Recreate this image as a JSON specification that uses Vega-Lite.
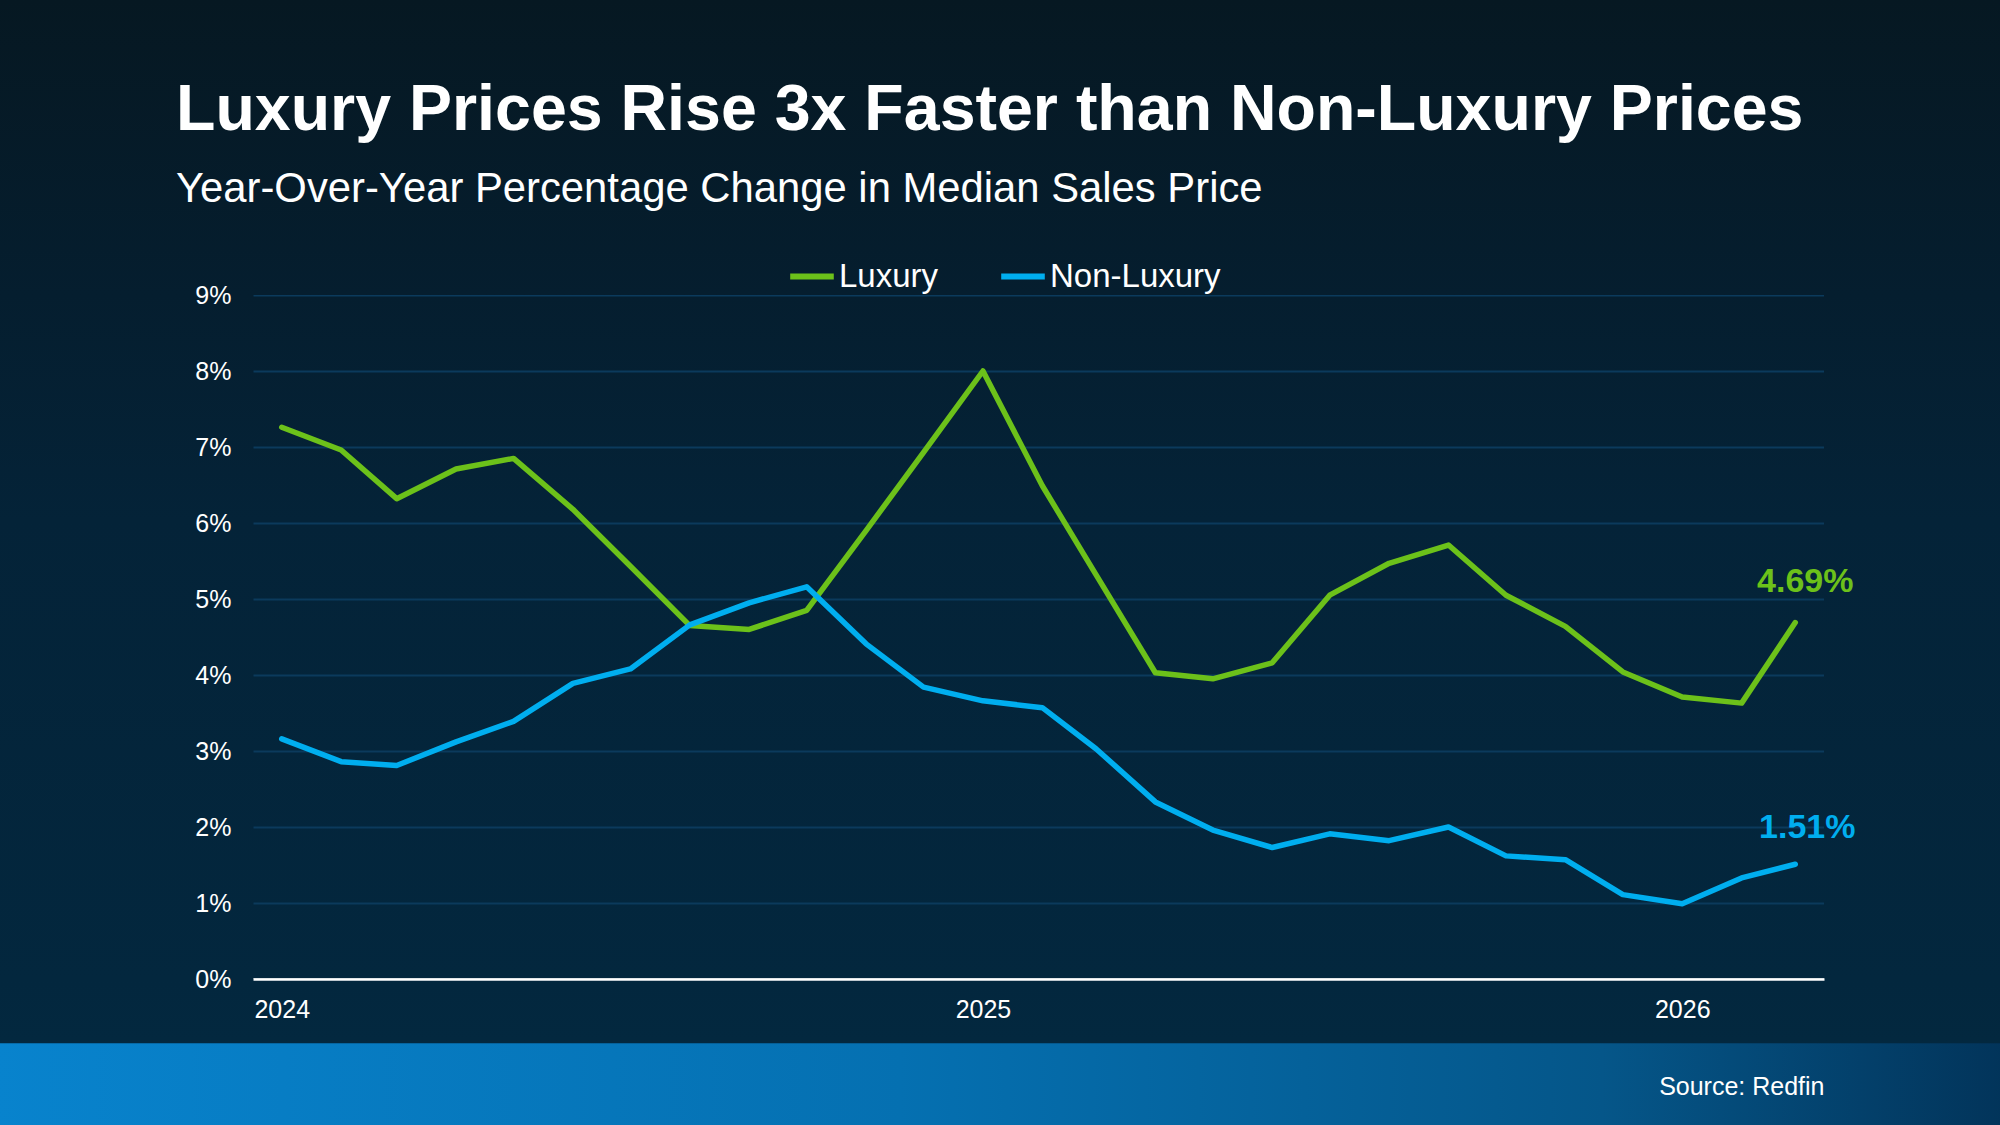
{
  "$schema": "https://vega.github.io/schema/vega-lite/v6.json",
  "width": 1571,
  "height": 684,
  "autosize": {"type": "none"},
  "padding": {"left": 253, "top": 295, "right": 176, "bottom": 146},
  "background": "#04223a",
  "config": {
    "font": "Liberation Sans"
  },
  "view": {
    "stroke": null,
    "fill": {"expr": "{gradient: 'linear', x1: 0, y1: 0, x2: 0, y2: 1, stops: [{offset: 0, color: '#051e2f'}, {offset: 0.33, color: '#042338'}, {offset: 1, color: '#03273e'}]}"}
  },
  "title": {
    "text": "Luxury Prices Rise 3x Faster than Non-Luxury Prices",
    "subtitle": "Year-Over-Year Percentage Change in Median Sales Price",
    "anchor": "start",
    "frame": "group",
    "dx": -77,
    "offset": -212,
    "baseline": "top",
    "font": "Liberation Sans",
    "fontSize": 64.5,
    "fontWeight": "bold",
    "color": "#ffffff",
    "subtitleFont": "Liberation Sans",
    "subtitleFontSize": 41.8,
    "subtitleColor": "#ffffff",
    "subtitlePadding": 26
  },
  "resolve": {"axis": {"y": "independent"}},
  "layer": [
    {
      "data": {"values": [{}]},
      "mark": {
        "type": "rect",
        "fill": {
          "gradient": "linear", "x1": 0, "y1": 0, "x2": 0, "y2": 1,
          "stops": [
            {"offset": 0, "color": "#061822"},
            {"offset": 1, "color": "#051e2f"}
          ]
        }
      },
      "encoding": {
        "x": {"datum": {"year": 2023, "month": 8, "date": 5}, "type": "temporal"},
        "x2": {"datum": {"year": 2026, "month": 6, "date": 18}},
        "y": {"datum": 12.882, "type": "quantitative", "axis": null},
        "y2": {"datum": 9}
      }
    },
    {
      "data": {"values": [{}]},
      "mark": {
        "type": "rect",
        "fill": {
          "gradient": "linear", "x1": 0, "y1": 0, "x2": 0, "y2": 1,
          "stops": [
            {"offset": 0, "color": "#051e2f"},
            {"offset": 0.33, "color": "#042338"},
            {"offset": 1, "color": "#03273e"}
          ]
        }
      },
      "encoding": {
        "x": {"datum": {"year": 2023, "month": 8, "date": 5}, "type": "temporal"},
        "x2": {"datum": {"year": 2023, "month": 12, "date": 17}},
        "y": {"datum": 9, "type": "quantitative", "axis": null},
        "y2": {"datum": 0}
      }
    },
    {
      "data": {"values": [{}]},
      "mark": {
        "type": "rect",
        "fill": {
          "gradient": "linear", "x1": 0, "y1": 0, "x2": 0, "y2": 1,
          "stops": [
            {"offset": 0, "color": "#051e2f"},
            {"offset": 0.33, "color": "#042338"},
            {"offset": 1, "color": "#03273e"}
          ]
        }
      },
      "encoding": {
        "x": {"datum": {"year": 2026, "month": 3, "date": 16}, "type": "temporal"},
        "x2": {"datum": {"year": 2026, "month": 6, "date": 18}},
        "y": {"datum": 9, "type": "quantitative", "axis": null},
        "y2": {"datum": 0}
      }
    },
    {
      "data": {"values": [{}]},
      "mark": {
        "type": "rect",
        "fill": {
          "gradient": "linear", "x1": 0, "y1": 0, "x2": 0, "y2": 1,
          "stops": [
            {"offset": 0, "color": "#03273e"},
            {"offset": 1, "color": "#03283f"}
          ]
        }
      },
      "encoding": {
        "x": {"datum": {"year": 2023, "month": 8, "date": 5}, "type": "temporal"},
        "x2": {"datum": {"year": 2026, "month": 6, "date": 18}},
        "y": {"datum": 0, "type": "quantitative", "axis": null},
        "y2": {"datum": -0.846}
      }
    },
    {
      "data": {"values": [{}]},
      "mark": {
        "type": "rect",
        "fill": {
          "gradient": "linear", "x1": 0, "y1": 0, "x2": 1, "y2": 0,
          "stops": [
            {"offset": 0, "color": "#0883cd"},
            {"offset": 0.45, "color": "#0570b1"},
            {"offset": 0.8, "color": "#055689"},
            {"offset": 1, "color": "#02345a"}
          ]
        }
      },
      "encoding": {
        "x": {"datum": {"year": 2023, "month": 8, "date": 5}, "type": "temporal"},
        "x2": {"datum": {"year": 2026, "month": 6, "date": 18}},
        "y": {"datum": -0.846, "type": "quantitative", "axis": null},
        "y2": {"datum": -2.5}
      }
    },
    {
      "data": {
        "values": [
          {"month": "2024-01-01T00:00:00", "Luxury": 7.26, "Non-Luxury": 3.16},
          {"month": "2024-02-01T00:00:00", "Luxury": 6.96, "Non-Luxury": 2.86},
          {"month": "2024-03-01T00:00:00", "Luxury": 6.32, "Non-Luxury": 2.81},
          {"month": "2024-04-01T00:00:00", "Luxury": 6.71, "Non-Luxury": 3.12},
          {"month": "2024-05-01T00:00:00", "Luxury": 6.85, "Non-Luxury": 3.39},
          {"month": "2024-06-01T00:00:00", "Luxury": 6.18, "Non-Luxury": 3.89},
          {"month": "2024-07-01T00:00:00", "Luxury": 5.43, "Non-Luxury": 4.08},
          {"month": "2024-08-01T00:00:00", "Luxury": 4.65, "Non-Luxury": 4.66},
          {"month": "2024-09-01T00:00:00", "Luxury": 4.60, "Non-Luxury": 4.95},
          {"month": "2024-10-01T00:00:00", "Luxury": 4.85, "Non-Luxury": 5.16},
          {"month": "2024-11-01T00:00:00", "Luxury": 5.90, "Non-Luxury": 4.41},
          {"month": "2024-12-01T00:00:00", "Luxury": 6.93, "Non-Luxury": 3.84},
          {"month": "2025-01-01T00:00:00", "Luxury": 8.00, "Non-Luxury": 3.66},
          {"month": "2025-02-01T00:00:00", "Luxury": 6.49, "Non-Luxury": 3.57},
          {"month": "2025-03-01T00:00:00", "Luxury": 5.32, "Non-Luxury": 3.03},
          {"month": "2025-04-01T00:00:00", "Luxury": 4.03, "Non-Luxury": 2.33},
          {"month": "2025-05-01T00:00:00", "Luxury": 3.95, "Non-Luxury": 1.96},
          {"month": "2025-06-01T00:00:00", "Luxury": 4.16, "Non-Luxury": 1.73},
          {"month": "2025-07-01T00:00:00", "Luxury": 5.05, "Non-Luxury": 1.91},
          {"month": "2025-08-01T00:00:00", "Luxury": 5.47, "Non-Luxury": 1.82},
          {"month": "2025-09-01T00:00:00", "Luxury": 5.71, "Non-Luxury": 2.00},
          {"month": "2025-10-01T00:00:00", "Luxury": 5.05, "Non-Luxury": 1.62},
          {"month": "2025-11-01T00:00:00", "Luxury": 4.64, "Non-Luxury": 1.57},
          {"month": "2025-12-01T00:00:00", "Luxury": 4.04, "Non-Luxury": 1.11},
          {"month": "2026-01-01T00:00:00", "Luxury": 3.71, "Non-Luxury": 0.99},
          {"month": "2026-02-01T00:00:00", "Luxury": 3.63, "Non-Luxury": 1.33},
          {"month": "2026-03-01T00:00:00", "Luxury": 4.69, "Non-Luxury": 1.51}
        ]
      },
      "transform": [
        {"fold": ["Luxury", "Non-Luxury"], "as": ["series", "value"]}
      ],
      "resolve": {"axis": {"y": "independent"}},
      "encoding": {
        "x": {
          "field": "month",
          "type": "temporal",
          "scale": {"domain": [{"year": 2023, "month": 12, "date": 17}, {"year": 2026, "month": 3, "date": 16}]},
          "axis": {
            "values": [{"year": 2024, "month": 1, "date": 1}, {"year": 2025, "month": 1, "date": 1}, {"year": 2026, "month": 1, "date": 1}],
            "format": "%Y",
            "labelFontSize": 25,
            "labelColor": "#ffffff",
            "labelPadding": 18,
            "labelFlush": false,
            "ticks": false,
            "grid": false,
            "domainColor": "#ffffff",
            "domainWidth": 2.5,
            "title": "Source: Redfin",
            "titleAnchor": "end",
            "titleAlign": "right",
            "titleX": 1571,
            "titleY": 115,
            "titleBaseline": "alphabetic",
            "titleFontSize": 25,
            "titleFontWeight": "normal",
            "titleColor": "#ffffff",
            "zindex": 1
          }
        }
      },
      "layer": [
        {
          "mark": {"type": "line", "strokeWidth": 5.5, "strokeCap": "round", "strokeJoin": "round"},
          "encoding": {
            "y": {
              "field": "value",
              "type": "quantitative",
              "scale": {"domain": [0, 9]},
              "axis": {
                "orient": "left",
                "values": [0, 1, 2, 3, 4, 5, 6, 7, 8, 9],
                "labels": false,
                "ticks": false,
                "domain": false,
                "grid": true,
                "gridColor": {"condition": {"test": "datum.value === 0", "value": "#ffffff"}, "value": "#0b3a5c"},
                "gridWidth": 2,
                "title": null,
                "zindex": 0
              }
            },
            "stroke": {
              "field": "series",
              "type": "nominal",
              "scale": {"domain": ["Luxury", "Non-Luxury"], "range": ["#6cc11a", "#00aeef"]},
              "legend": {
                "orient": "none",
                "legendX": 534,
                "legendY": -43.5,
                "direction": "horizontal",
                "title": null,
                "labelFontSize": 33,
                "labelColor": "#ffffff",
                "labelLimit": 0,
                "symbolType": "stroke",
                "symbolSize": 1900,
                "symbolStrokeWidth": 6,
                "labelOffset": 2,
                "columnPadding": 50,
                "padding": 0
              }
            }
          }
        },
        {
          "transform": [{"filter": "datum.series === 'Luxury' && year(datum.month) === 2026 && month(datum.month) === 2"}],
          "mark": {
            "type": "text",
            "fontWeight": "bold",
            "fontSize": 34,
            "align": "center",
            "baseline": "alphabetic",
            "dx": 10,
            "dy": -31,
            "fill": "#6cc11a",
            "text": {"expr": "format(datum.value, '.2f') + '%'"}
          },
          "encoding": {
            "y": {
              "field": "value",
              "type": "quantitative",
              "axis": {
                "orient": "left",
                "values": [0, 1, 2, 3, 4, 5, 6, 7, 8, 9],
                "labelExpr": "datum.value + '%'",
                "labelFontSize": 25,
                "labelColor": "#ffffff",
                "labelPadding": 22,
                "ticks": false,
                "domain": false,
                "grid": false,
                "title": null,
                "zindex": 1
              }
            }
          }
        },
        {
          "transform": [{"filter": "datum.series === 'Non-Luxury' && year(datum.month) === 2026 && month(datum.month) === 2"}],
          "mark": {
            "type": "text",
            "fontWeight": "bold",
            "fontSize": 34,
            "align": "center",
            "baseline": "alphabetic",
            "dx": 12,
            "dy": -26,
            "fill": "#00aeef",
            "text": {"expr": "format(datum.value, '.2f') + '%'"}
          },
          "encoding": {
            "y": {"field": "value", "type": "quantitative", "axis": null}
          }
        }
      ]
    }
  ]
}
